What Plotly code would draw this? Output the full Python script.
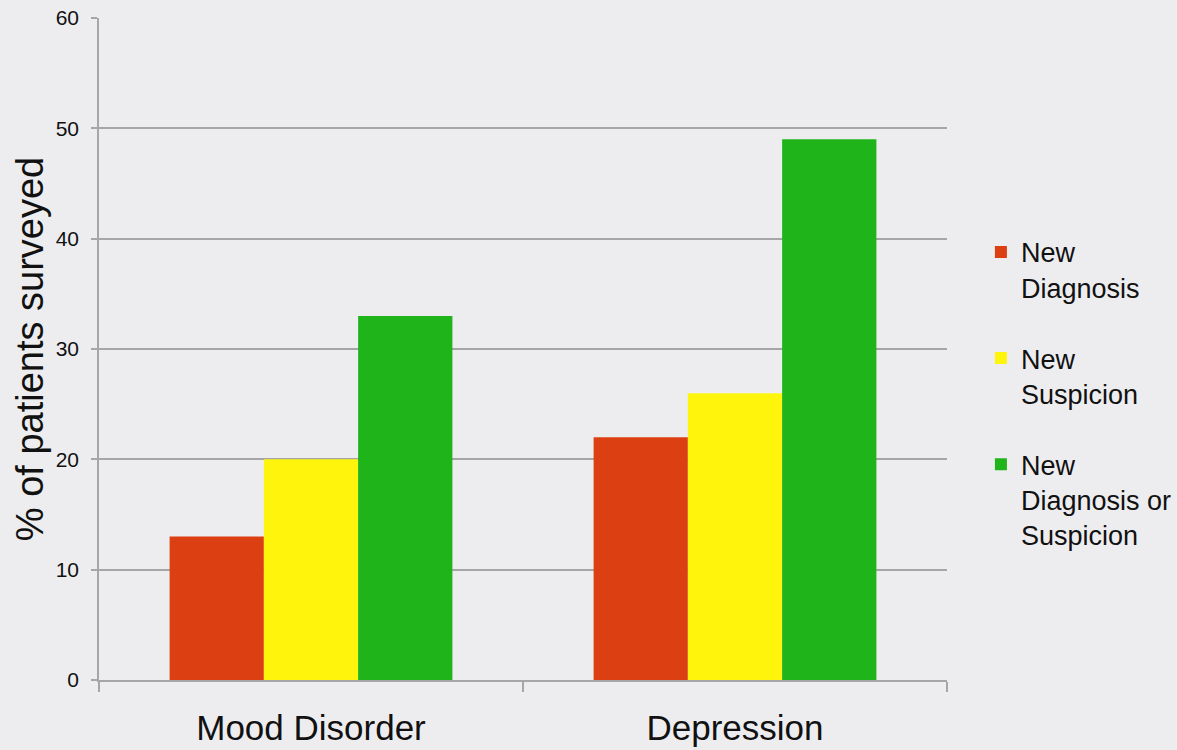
import plotly.graph_objects as go

categories = ["Mood Disorder", "Depression"]
series_names = ["New<br>Diagnosis", "New<br>Suspicion", "New<br>Diagnosis or<br>Suspicion"]
new_diagnosis = [13, 22]
new_suspicion = [20, 26]
diagnosis_or_suspicion = [33, 49]
colors = ["#dc4012", "#fff50c", "#1eb41a"]
y_ticks = [0, 10, 20, 30, 40, 50, 60]

font_family = "Liberation Sans, Arial, Helvetica, sans-serif"
grid_color = "#a6a6a8"

fig = go.Figure()
for i, (name, vals) in enumerate(zip(series_names, [new_diagnosis, new_suspicion, diagnosis_or_suspicion])):
    fig.add_trace(go.Bar(
        x=categories, y=vals, name=name,
        marker=dict(color=colors[i], line=dict(width=0)),
        legendgroup=f"g{i}",
    ))

fig.update_layout(
    width=1177, height=750,
    margin=dict(l=99, r=230, t=18, b=70, autoexpand=False),
    paper_bgcolor="#ededf0",
    plot_bgcolor="rgba(0,0,0,0)",
    barmode="group", bargap=0.333, bargroupgap=0,
    font=dict(family=font_family, color="#111111"),
    showlegend=True,
    legend=dict(
        x=1.040, xanchor="left", y=0.683, yanchor="top",
        font=dict(size=27, family=font_family, color="#111111"),
        valign="top", tracegroupgap=33,
        bgcolor="rgba(0,0,0,0)", itemclick=False,
    ),
    xaxis=dict(
        showgrid=False, showline=True, linecolor=grid_color, linewidth=1.5,
        ticks="outside", tickson="boundaries", ticklen=10, tickcolor=grid_color, tickwidth=1.5,
        tickfont=dict(size=35, family=font_family, color="#111111"),
        ticklabelstandoff=16,
    ),
    yaxis=dict(
        range=[0, 60], tickvals=y_ticks,
        showgrid=True, gridcolor=grid_color, gridwidth=1.5,
        showline=True, linecolor=grid_color, linewidth=1.5,
        ticks="outside", ticklen=6, tickcolor=grid_color, tickwidth=1.5,
        tickfont=dict(size=21, family=font_family, color="#111111"),
        ticklabelstandoff=8,
        zeroline=False,
        title=dict(text="% of patients surveyed", font=dict(size=38, family=font_family, color="#111111"), standoff=0),
    ),
)

fig.write_html("out.html")
